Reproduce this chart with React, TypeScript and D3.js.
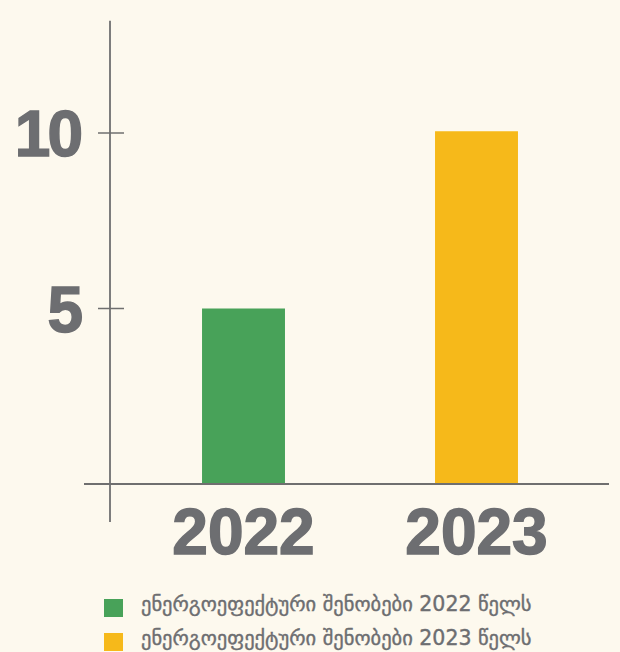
import React from 'react';
import * as d3 from 'd3';

const years = ['2022', '2023'];
const values = [5.0, 10.05];
const colors = ['#48a259', '#f6b91a'];
const legendLabels = ['ენერგოეფექტური შენობები 2022 წელს', 'ენერგოეფექტური შენობები 2023 წელს'];
const yTicks = [5, 10];

const width = 620;
const height = 652;
const gray = '#6d6e71';

export default function App() {
    const y = d3.scaleLinear().domain([0, 10]).range([484, 133]);
    const x = d3.scaleBand<string>()
        .domain(years)
        .range([110, 610])
        .paddingInner(0.644)
        .paddingOuter(0.395);
    const color = d3.scaleOrdinal<string, string>().domain(years).range(colors);
    const axisX = 110;

    return (
        <svg width={width} height={height} style={{ position: 'absolute', left: 0, top: 0, background: '#fdf9ee' }}>
            {/* bars */}
            {years.map((yr, i) => (
                <rect key={yr} x={x(yr)} y={y(values[i])} width={x.bandwidth()}
                    height={y(0) - y(values[i])} fill={color(yr)} />
            ))}

            {/* axes */}
            <line x1={axisX} x2={axisX} y1={y(13.2)} y2={y(0) + 38} stroke="#7d7d7d" strokeWidth={2} />
            <line x1={84} x2={609} y1={y(0)} y2={y(0)} stroke="#6f6f6f" strokeWidth={2} />
            {yTicks.map(t => (
                <g key={t}>
                    <line x1={axisX - 12} x2={axisX + 14} y1={y(t)} y2={y(t)} stroke="#6f6f6f" strokeWidth={1.5} />
                    <text x={80} y={y(t)} dy="0.36em" textAnchor="end" fill={gray}
                        fontFamily="'Liberation Sans', sans-serif" fontWeight="bold" fontSize={64}
                        letterSpacing={-3} stroke={gray} strokeWidth={1.5}>{t}</text>
                </g>
            ))}
            {years.map(yr => (
                <text key={yr} x={(x(yr) ?? 0) + x.bandwidth() / 2} y={554} textAnchor="middle" fill={gray}
                    fontFamily="'Liberation Sans', sans-serif" fontWeight="bold" fontSize={64}
                    stroke={gray} strokeWidth={1.5}>{yr}</text>
            ))}

            {/* legend */}
            {years.map((yr, i) => (
                <g key={yr} transform={`translate(104, ${599 + i * 34})`}>
                    <rect width={19} height={18} fill={color(yr)} />
                    <text x={37} y={12} fill={gray} stroke={gray} strokeWidth={0.4}
                        fontFamily="'DejaVu Sans', sans-serif" fontSize={20.5}>{legendLabels[i]}</text>
                </g>
            ))}
        </svg>
    );
}
